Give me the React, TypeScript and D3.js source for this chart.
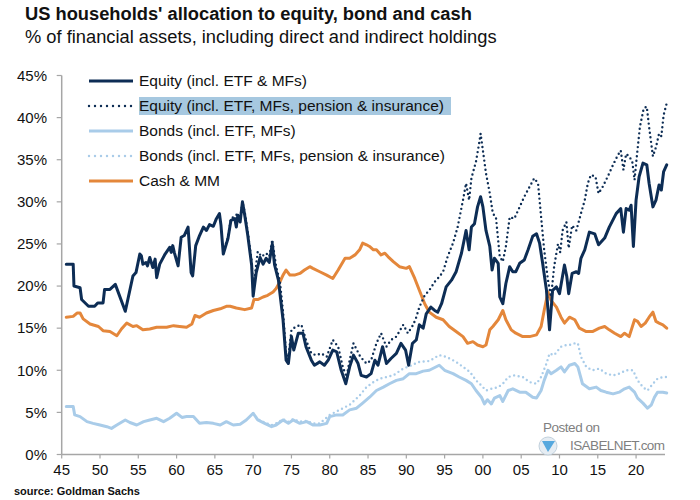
import * as d3 from "d3";
import React from "react";

type Pt = [number, number];

// [year, % of financial assets]
const equity: Pt[] = [
  [1945.6,22.6],[1946.5,22.6],[1946.6,20.0],[1947.4,19.8],[1947.6,18.4],[1948.5,17.6],[1949.3,17.6],[1949.7,18.0],[1950.4,18.0],[1950.6,19.6],[1951.3,19.6],[1952.0,20.2],[1953.3,17.0],[1954.3,21.2],[1954.7,21.6],[1955.2,23.8],[1955.4,23.6],[1955.6,22.6],[1956.0,22.8],[1956.2,22.4],[1956.5,23.4],[1956.9,22.2],[1957.2,23.2],[1957.4,21.0],[1957.8,22.6],[1958.5,23.8],[1959.1,24.6],[1959.3,24.0],[1959.5,24.8],[1959.7,24.0],[1960.2,22.4],[1960.6,25.8],[1961.0,26.0],[1961.5,27.0],[1961.9,21.6],[1962.1,21.2],[1962.5,24.8],[1963.0,26.0],[1963.5,27.0],[1963.9,26.6],[1964.3,27.3],[1964.8,27.1],[1965.2,28.0],[1965.6,28.6],[1965.8,27.2],[1966.1,23.8],[1966.7,25.6],[1967.1,27.8],[1967.6,28.0],[1967.8,27.0],[1968.0,28.4],[1968.3,27.6],[1968.6,30.0],[1968.9,28.4],[1969.3,26.0],[1969.8,22.5],[1970.0,18.8],[1970.4,21.6],[1970.9,23.4],[1971.3,22.6],[1971.7,23.3],[1972.1,22.8],[1972.5,25.0],[1972.8,22.5],[1973.3,20.7],[1973.5,19.1],[1973.9,16.0],[1974.3,11.2],[1974.6,10.8],[1975.0,14.0],[1975.3,12.4],[1975.9,14.4],[1976.5,14.4],[1976.9,12.8],[1977.6,11.2],[1978.0,10.6],[1978.7,11.0],[1979.3,10.6],[1979.8,11.2],[1980.4,12.4],[1980.9,12.2],[1981.5,10.0],[1982.1,8.4],[1982.6,10.4],[1983.1,11.8],[1983.7,10.8],[1984.1,9.4],[1984.8,9.2],[1985.4,9.6],[1985.9,11.2],[1986.3,10.6],[1986.9,12.8],[1987.4,10.8],[1988.0,11.4],[1988.7,12.0],[1989.3,13.2],[1989.9,12.4],[1990.3,10.6],[1990.8,13.2],[1991.3,13.6],[1991.7,15.4],[1992.2,15.0],[1992.6,16.7],[1993.2,17.5],[1993.7,17.1],[1994.1,16.9],[1994.6,17.9],[1995.2,19.9],[1995.9,20.7],[1996.5,21.7],[1997.2,23.9],[1997.8,26.6],[1998.2,24.3],[1998.5,27.0],[1998.9,27.4],[1999.3,29.4],[1999.7,30.6],[2000.0,29.4],[2000.4,26.6],[2000.9,24.7],[2001.2,21.9],[2001.5,23.3],[2002.0,22.7],[2002.2,18.7],[2002.6,17.9],[2003.0,20.3],[2003.5,22.3],[2003.9,21.7],[2004.3,21.7],[2004.8,22.7],[2005.4,23.1],[2005.9,24.3],[2006.5,25.9],[2007.0,26.2],[2007.4,25.1],[2007.8,22.7],[2008.3,19.5],[2008.7,14.8],[2009.1,19.5],[2009.6,19.9],[2010.0,19.1],[2010.65,22.5],[2010.96,21.1],[2011.2,19.1],[2011.65,21.5],[2012.2,21.7],[2012.5,21.5],[2012.8,23.3],[2013.3,24.3],[2013.9,26.4],[2014.6,26.2],[2015.1,24.9],[2015.9,25.7],[2016.5,27.0],[2017.4,28.6],[2018.0,29.2],[2018.35,26.4],[2018.7,29.2],[2019.1,29.0],[2019.35,29.6],[2019.65,24.7],[2020.0,30.2],[2020.4,33.0],[2020.9,34.6],[2021.4,34.4],[2021.7,32.2],[2022.2,29.4],[2022.6,30.2],[2023.0,32.0],[2023.3,31.4],[2023.6,33.6],[2024.0,34.4],
];

const equityPension: Pt[] = [
  [1966.1,24.0],[1966.7,25.8],[1967.1,28.0],[1967.6,28.3],[1968.0,28.6],[1968.3,28.0],[1968.6,30.0],[1968.9,28.8],[1969.3,26.4],[1969.8,23.0],[1970.0,19.5],[1970.4,22.6],[1970.6,24.1],[1971.1,23.5],[1971.7,23.9],[1972.1,23.5],[1972.5,25.5],[1973.0,22.3],[1973.5,20.5],[1973.9,17.0],[1974.3,12.0],[1974.6,11.6],[1975.0,14.8],[1975.6,15.2],[1976.3,15.4],[1976.9,13.6],[1977.6,12.0],[1978.2,11.8],[1978.9,12.0],[1979.6,11.6],[1980.4,13.6],[1981.1,12.8],[1981.7,10.4],[1982.2,9.2],[1982.6,11.2],[1983.1,13.2],[1984.0,11.6],[1984.8,10.8],[1985.4,11.2],[1986.1,13.2],[1986.7,14.4],[1987.4,12.8],[1988.0,13.6],[1988.7,14.0],[1989.6,15.4],[1990.2,14.4],[1990.9,15.4],[1991.3,16.3],[1991.7,17.5],[1992.4,18.9],[1993.0,19.5],[1993.7,20.5],[1994.3,21.1],[1994.8,21.7],[1995.4,23.5],[1996.1,25.1],[1996.7,27.0],[1997.4,30.2],[1997.8,32.2],[1998.2,30.2],[1998.5,32.8],[1999.1,34.8],[1999.5,36.9],[1999.7,38.1],[2000.0,36.1],[2000.4,33.4],[2000.9,31.0],[2001.3,28.6],[2001.7,28.2],[2002.2,23.5],[2002.6,22.9],[2003.0,24.7],[2003.5,28.2],[2004.1,28.0],[2004.8,29.4],[2005.4,30.6],[2006.1,31.8],[2006.7,32.8],[2007.2,32.2],[2007.6,28.2],[2008.0,24.3],[2008.5,20.7],[2008.9,18.7],[2009.3,22.3],[2009.8,25.0],[2010.1,24.0],[2010.4,26.6],[2010.9,27.6],[2011.2,24.5],[2011.65,27.2],[2012.2,26.6],[2012.8,28.6],[2013.3,30.2],[2013.7,32.2],[2014.1,33.2],[2014.7,33.0],[2015.1,31.0],[2015.65,31.8],[2016.3,33.0],[2017.0,34.4],[2017.6,35.5],[2018.0,36.1],[2018.35,33.8],[2018.7,35.7],[2019.1,35.4],[2019.5,34.8],[2019.8,32.6],[2020.1,35.4],[2020.5,38.9],[2021.0,41.1],[2021.4,41.3],[2021.7,38.9],[2022.2,35.4],[2022.6,36.5],[2023.0,38.1],[2023.3,37.8],[2023.6,40.3],[2024.0,41.7],
];

const bonds: Pt[] = [
  [1945.6,5.7],[1946.5,5.7],[1946.7,4.7],[1947.4,4.5],[1948.3,3.9],[1949.1,3.7],[1950.0,3.5],[1950.9,3.3],[1951.5,3.1],[1952.2,3.5],[1953.3,4.1],[1953.9,3.8],[1954.8,3.5],[1955.7,3.9],[1956.5,4.1],[1957.4,4.3],[1958.3,3.9],[1959.1,4.3],[1960.0,4.9],[1960.7,4.4],[1961.3,4.5],[1962.2,4.5],[1963.0,3.7],[1963.9,3.8],[1964.8,3.7],[1965.7,3.5],[1966.5,3.9],[1967.4,3.5],[1968.3,3.6],[1969.1,4.1],[1970.0,4.9],[1970.6,4.1],[1971.5,3.7],[1972.4,3.3],[1973.0,3.5],[1973.9,4.1],[1974.6,3.7],[1975.2,4.1],[1976.1,3.7],[1977.0,3.9],[1977.8,3.5],[1978.7,3.5],[1979.6,3.7],[1980.0,4.5],[1980.9,4.7],[1981.7,4.7],[1982.6,5.3],[1983.5,5.5],[1984.3,6.1],[1985.2,6.8],[1986.1,7.6],[1987.0,8.0],[1987.8,8.4],[1988.7,8.8],[1989.6,9.0],[1990.4,9.6],[1991.3,9.6],[1992.2,9.9],[1993.0,10.0],[1994.3,10.6],[1995.0,10.0],[1996.1,9.6],[1996.9,9.2],[1997.8,8.8],[1998.5,8.4],[1999.1,7.6],[1999.8,6.8],[2000.2,6.0],[2000.6,6.5],[2001.1,6.0],[2001.5,6.7],[2002.2,7.0],[2002.6,6.3],[2003.3,7.6],[2003.9,7.8],[2004.8,7.4],[2005.6,7.4],[2006.5,6.8],[2007.0,6.7],[2007.6,7.6],[2008.0,8.8],[2008.5,10.0],[2008.9,9.6],[2009.6,10.0],[2010.2,10.4],[2010.65,9.8],[2011.3,10.6],[2012.0,10.8],[2012.4,10.4],[2013.0,8.4],[2013.9,7.8],[2014.8,8.0],[2015.4,7.6],[2016.1,7.4],[2017.0,7.2],[2017.8,7.4],[2018.5,7.8],[2019.1,8.0],[2019.8,7.4],[2020.2,6.7],[2020.9,6.1],[2021.5,5.5],[2022.0,5.9],[2022.4,6.8],[2022.8,7.4],[2023.5,7.4],[2024.0,7.3],
];

const bondsPension: Pt[] = [
  [1970.0,4.9],[1970.6,4.2],[1971.5,3.8],[1972.4,3.5],[1973.0,3.7],[1973.9,4.2],[1974.6,3.9],[1975.2,4.2],[1976.1,3.9],[1977.0,4.0],[1977.8,3.7],[1978.7,3.7],[1980.0,4.7],[1981.3,5.3],[1982.6,5.9],[1983.9,7.0],[1984.8,8.0],[1985.7,8.6],[1986.5,9.0],[1987.4,9.2],[1988.3,9.4],[1989.6,10.2],[1990.7,10.6],[1991.7,11.0],[1993.0,11.1],[1994.3,11.8],[1995.2,11.6],[1996.5,11.0],[1997.4,10.4],[1998.3,9.8],[1999.1,8.8],[1999.8,8.2],[2000.4,7.6],[2001.1,7.8],[2002.0,8.0],[2002.6,8.4],[2003.3,9.2],[2004.1,9.4],[2005.2,9.2],[2006.1,8.6],[2007.0,8.4],[2007.6,9.2],[2008.3,10.8],[2008.7,12.0],[2009.3,11.8],[2010.2,12.8],[2010.9,13.0],[2011.3,13.0],[2012.0,13.2],[2012.4,13.2],[2012.8,11.6],[2013.5,10.4],[2014.3,10.0],[2015.2,10.2],[2016.1,9.6],[2017.0,9.4],[2017.8,9.6],[2018.7,10.0],[2019.6,10.0],[2020.2,8.8],[2020.9,8.0],[2021.5,7.6],[2022.2,8.4],[2022.8,9.0],[2023.5,9.2],[2024.0,9.2],
];

const cash: Pt[] = [
  [1945.6,16.3],[1946.5,16.4],[1947.0,16.8],[1947.4,16.8],[1947.8,16.1],[1948.7,15.5],[1949.8,15.2],[1950.4,14.7],[1951.3,14.6],[1952.2,14.1],[1952.8,14.9],[1953.5,15.6],[1954.3,15.2],[1954.8,15.3],[1955.6,14.8],[1956.5,14.9],[1957.4,15.1],[1958.7,15.1],[1959.6,15.3],[1960.4,15.2],[1961.3,15.1],[1962.0,15.5],[1962.4,16.5],[1963.0,16.3],[1963.9,16.8],[1964.8,17.1],[1965.7,17.3],[1966.5,17.6],[1967.0,17.6],[1967.8,17.4],[1968.9,17.2],[1969.8,17.4],[1970.1,18.4],[1970.6,18.4],[1971.3,18.7],[1971.9,18.9],[1972.6,19.3],[1973.0,19.7],[1973.5,20.5],[1973.9,21.3],[1974.3,21.9],[1974.8,21.3],[1975.4,21.3],[1976.1,21.5],[1976.7,21.9],[1977.4,22.3],[1977.8,22.1],[1978.7,21.7],[1979.6,21.3],[1980.4,20.9],[1981.1,21.9],[1982.0,23.3],[1982.6,23.3],[1983.3,23.7],[1983.9,24.3],[1984.3,25.1],[1984.8,24.9],[1985.2,24.7],[1985.7,24.3],[1986.1,24.3],[1986.7,23.7],[1987.2,23.9],[1987.6,23.5],[1988.3,22.9],[1989.1,22.3],[1990.0,22.1],[1990.4,22.3],[1991.1,20.9],[1991.7,19.5],[1992.4,17.9],[1993.0,16.9],[1993.9,16.3],[1994.8,16.0],[1995.6,15.2],[1996.5,14.6],[1997.4,14.0],[1998.0,13.2],[1998.7,13.4],[1999.3,13.0],[2000.0,12.8],[2000.4,13.0],[2000.9,14.8],[2001.3,15.2],[2002.0,16.0],[2002.6,17.1],[2003.0,16.0],[2003.7,14.8],[2004.3,14.4],[2005.2,14.0],[2006.1,14.0],[2007.0,14.2],[2007.6,15.2],[2008.0,17.1],[2008.5,19.3],[2008.9,18.3],[2009.6,17.5],[2010.2,16.3],[2010.65,15.6],[2011.3,16.3],[2012.0,16.0],[2012.6,15.0],[2013.5,14.6],[2014.3,14.6],[2015.2,15.0],[2015.9,15.2],[2016.5,14.8],[2017.2,14.4],[2018.0,14.0],[2018.5,14.4],[2019.1,14.0],[2019.8,16.0],[2020.2,15.8],[2020.65,15.2],[2021.2,15.6],[2021.7,16.3],[2022.2,16.9],[2022.6,15.8],[2023.0,15.6],[2023.5,15.4],[2024.0,15.0],
];

const yTicks = [0, 5, 10, 15, 20, 25, 30, 35, 40, 45];
const xTicks = [1945, 1950, 1955, 1960, 1965, 1970, 1975, 1980, 1985, 1990, 1995, 2000, 2005, 2010, 2015, 2020];
const legendLabels = [
  "Equity (incl. ETF & MFs)",
  "Equity (incl. ETF, MFs, pension & insurance)",
  "Bonds (incl. ETF, MFs)",
  "Bonds (incl. ETF, MFs, pension & insurance)",
  "Cash & MM",
];

const NAVY = "#0d2d55";
const LIGHT = "#a9cce9";
const ORANGE = "#e4873b";
const FONT = "'Liberation Sans', Arial, sans-serif";

const App: React.FC = () => {
  const x = d3.scaleLinear().domain([1945, 2024.3]).range([61.7, 669]);
  const y = d3.scaleLinear().domain([0, 45]).range([454.5, 75.5]);
  const line = d3.line<Pt>().x((d) => x(d[0])).y((d) => y(d[1]));

  const series = [
    { data: bondsPension, color: LIGHT, dotted: true },
    { data: bonds, color: LIGHT, dotted: false },
    { data: cash, color: ORANGE, dotted: false },
    { data: equityPension, color: NAVY, dotted: true },
    { data: equity, color: NAVY, dotted: false },
  ];
  const legendStyles = [
    { color: NAVY, dotted: false },
    { color: NAVY, dotted: true },
    { color: LIGHT, dotted: false },
    { color: LIGHT, dotted: true },
    { color: ORANGE, dotted: false },
  ];
  const legendY = [81, 106, 131, 156, 181];

  return (
    <svg width={700} height={500} style={{ position: "absolute", left: 0, top: 0, background: "#fff" }} fontFamily={FONT}>
      <text x={25} y={20} fontSize={18.3} fontWeight="bold" fill="#111">US households' allocation to equity, bond and cash</text>
      <text x={25} y={43} fontSize={18.3} fill="#111">% of financial assets, including direct and indirect holdings</text>

      {/* axes */}
      <line x1={x(1945)} x2={x(1945)} y1={y(45)} y2={y(0)} stroke="#a6a6a6" strokeWidth={1.5} />
      <line x1={x(1945)} x2={665} y1={y(0)} y2={y(0)} stroke="#a6a6a6" strokeWidth={1.5} />
      {yTicks.map((t) => (
        <g key={t}>
          <line x1={x(1945) - 5} x2={x(1945)} y1={y(t)} y2={y(t)} stroke="#a6a6a6" strokeWidth={1.2} />
          <text x={47} y={y(t)} dy="0.35em" textAnchor="end" fontSize={15} fill="#111">{t}%</text>
        </g>
      ))}
      {xTicks.map((t) => (
        <g key={t}>
          <line x1={x(t)} x2={x(t)} y1={y(0)} y2={y(0) + 4} stroke="#a6a6a6" strokeWidth={1.2} />
          <text x={x(t)} y={475} textAnchor="middle" fontSize={15} fill="#111">{String(t % 100).padStart(2, "0")}</text>
        </g>
      ))}

      {/* watermark */}
      <text x={543} y={432} fontSize={13.5} fill="#7f7f7f" textLength={57}>Posted on</text>
      <circle cx={548} cy={446} r={9} fill="#e6edf3" stroke="#c2d1dd" />
      <path d="M542,441 L555,441 L548,452 Z" fill="#56a8de" />
      <text x={570} y={450} fontSize={13.5} fill="#7f7f7f" textLength={95}>ISABELNET.com</text>

      {series.map((s, i) => (
        <path
          key={i}
          d={line(s.data) ?? ""}
          fill="none"
          stroke={s.color}
          strokeWidth={s.dotted ? 2.4 : 3}
          strokeDasharray={s.dotted ? "0 4.6" : undefined}
          strokeLinecap="round"
          strokeLinejoin="round"
        />
      ))}

      {/* legend */}
      <rect x={139} y={97} width={312} height={18} fill="#a6c8e0" />
      {legendLabels.map((label, i) => (
        <g key={label}>
          <line
            x1={89}
            x2={133}
            y1={legendY[i]}
            y2={legendY[i]}
            stroke={legendStyles[i].color}
            strokeWidth={legendStyles[i].dotted ? 2.4 : 3}
            strokeDasharray={legendStyles[i].dotted ? "0 6" : undefined}
            strokeLinecap={legendStyles[i].dotted ? "round" : "butt"}
          />
          <text x={139} y={legendY[i]} dy="0.35em" fontSize={15.5} fill="#111">{label}</text>
        </g>
      ))}

      <text x={14} y={495} fontSize={11} fontWeight="bold" fill="#111">source: Goldman Sachs</text>
    </svg>
  );
};

export default App;
